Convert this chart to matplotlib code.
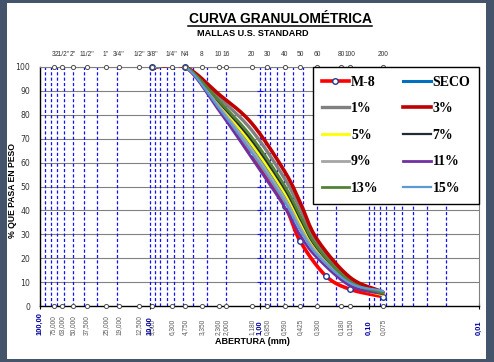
import numpy as np
import matplotlib
matplotlib.use("Agg")
import matplotlib.pyplot as plt
from matplotlib.patches import Rectangle
from matplotlib.lines import Line2D

# sieve series (top / bottom marks)
sieve_mm = [75, 63, 50, 37.5, 25, 19, 12.5, 9.5, 6.3, 4.75, 3.35, 2.36, 2.0,
            1.18, 0.85, 0.59, 0.425, 0.3, 0.18, 0.15, 0.075]
sieve_top = ['3', '21/2"', '2"', '11/2"', '1"', '3/4"', '1/2"', '3/8"', '1/4"', 'N4',
             '8', '10', '16', '20', '30', '40', '50', '60', '80', '100', '200']
sieve_bottom = ['75,000', '63,000', '50,000', '37,500', '25,000', '19,000', '12,500',
                '9,500', '6,300', '4,750', '3,350', '2,360', '2,000', '1,180', '0,850',
                '0,590', '0,425', '0,300', '0,180', '0,150', '0,075']
decades = [100, 10, 1, 0.1, 0.01]
decade_labels = ['100,00', '10,00', '1,00', '0,10', '0,01']

# gradation curves
m8_mm = [9.5, 4.75, 2.36, 1.18, 0.59, 0.425, 0.25, 0.15, 0.075]
m8_pass = [100, 100, 83.5, 64, 42, 27, 12.7, 7, 3.9]

mix_mm = [9.5, 4.75, 2.36, 1.18, 0.59, 0.425, 0.3, 0.15, 0.075]
seco = [100, 100, 84.3, 67.1, 46.6, 34.3, 23.0, 9.7, 5.5]
p01 = [100, 100, 87.4, 73.6, 53.3, 40.5, 26.5, 10.9, 5.6]
p03 = [100, 100, 88.7, 76.5, 56.3, 43.2, 28.0, 12.0, 5.8]
p05 = [100, 100, 84.7, 67.8, 47.4, 35.0, 23.4, 9.2, 4.6]
p07 = [100, 100, 85.4, 69.3, 48.9, 36.4, 24.2, 10.0, 5.2]
p09 = [100, 100, 83.7, 65.6, 45.1, 32.9, 22.2, 9.5, 5.8]
p11 = [100, 100, 82.0, 62.0, 41.4, 29.5, 20.3, 8.5, 5.0]
p13 = [100, 100, 86.0, 70.7, 50.3, 37.7, 24.9, 10.3, 5.4]
p15 = [100, 100, 83.0, 64.2, 43.6, 31.6, 21.5, 9.6, 6.3]

series = [
    ('SECO', seco, '#0070C0', 2.2),
    ('1%', p01, '#808080', 2.4),
    ('3%', p03, '#C00000', 2.6),
    ('5%', p05, '#FFFF00', 2.0),
    ('7%', p07, '#222A35', 1.6),
    ('9%', p09, '#A5A5A5', 2.0),
    ('11%', p11, '#7030A0', 2.0),
    ('13%', p13, '#548235', 2.0),
    ('15%', p15, '#5B9BD5', 1.6),
]


def smooth(d, p, n=30):
    # catmull-rom in (log d, %) like the excel smoothed line
    pts = np.column_stack([np.log10(d), p]).astype(float)
    P = np.vstack([2 * pts[0] - pts[1], pts, 2 * pts[-1] - pts[-2]])
    t = np.linspace(0, 1, n, endpoint=False)[:, None]
    out = []
    for i in range(1, len(P) - 2):
        p0, p1, p2, p3 = P[i - 1], P[i], P[i + 1], P[i + 2]
        seg = 0.5 * (2 * p1 + (-p0 + p2) * t + (2 * p0 - 5 * p1 + 4 * p2 - p3) * t ** 2
                     + (-p0 + 3 * p1 - 3 * p2 + p3) * t ** 3)
        out.append(seg)
    out.append(pts[-1][None, :])
    res = np.vstack(out)
    return 10 ** res[:, 0], res[:, 1]


W, H = 494, 362
fig = plt.figure(figsize=(W / 100, H / 100), dpi=100)
fig.patch.set_facecolor('#44546A')
fig.patches.append(Rectangle((7 / W, 3 / H), (486 - 7) / W, (359 - 3) / H,
                             transform=fig.transFigure, facecolor='white',
                             edgecolor='none', zorder=-1))

ax = fig.add_axes([40 / W, (H - 306) / H, 439 / W, 239 / H])
ax.set_xscale('log')
ax.set_xlim(100, 0.01)
ax.set_ylim(0, 100)

# grid
for yv in range(10, 101, 10):
    ax.axhline(yv, color='#808080', lw=0.8, zorder=1)
grid_x = [m * 10.0 ** e for e in range(-2, 2) for m in range(1, 10)]
for xv in grid_x:
    if 0.01 < xv < 100:
        ax.axvline(xv, color='#1010FF', lw=0.9, dashes=(2.5, 1.8), zorder=1)
ax.plot([1] * 9, range(10, 100, 10), ls='none', marker='_', ms=4, mew=0.8,
        color='#1010FF', zorder=1)

# M-8 first, so the others cover it
xs, ys = smooth(m8_mm, m8_pass)
ax.plot(xs, ys, color='#FF0000', lw=2.6, zorder=3, solid_capstyle='round')
ax.plot(m8_mm, m8_pass, ls='none', marker='o', ms=4, mfc='white', mec='#1F3A8F',
        mew=1.0, zorder=3, clip_on=False)

handles = {}
handles['M-8'] = Line2D([], [], color='#FF0000', lw=2.6, marker='o', ms=4,
                        mfc='white', mec='#1F3A8F', mew=1.0)
for name, vals, col, lw in series:
    xs, ys = smooth(mix_mm, vals)
    ax.plot(xs, ys, color=col, lw=lw, zorder=3, solid_capstyle='round')
    handles[name] = Line2D([], [], color=col, lw=lw)

# sieve marks at 100 and 0
for yv in (100, 0):
    ax.plot(sieve_mm, [yv] * len(sieve_mm), ls='none', marker='o', ms=3.0,
            mfc='white', mec='#505050', mew=0.7, zorder=5, clip_on=False)

# spines / ticks
for s in ('left', 'bottom'):
    ax.spines[s].set_color('black')
    ax.spines[s].set_linewidth(1)
for s in ('top', 'right'):
    ax.spines[s].set_color('#808080')
    ax.spines[s].set_linewidth(0.8)
ax.set_yticks(range(0, 101, 10))
ax.tick_params(axis='y', length=0, pad=7, labelsize=5.6, labelcolor='#333333')
ax.set_xticks(decades)
ax.set_xticklabels([])
ax.tick_params(axis='x', which='major', direction='inout', length=5, width=0.8)
ax.tick_params(axis='x', which='minor', length=0)

# labels under and over the axis
for d, lab in zip(sieve_mm, sieve_bottom):
    ax.text(d, -0.121, lab, transform=ax.get_xaxis_transform(), rotation=90,
            ha='center', va='bottom', fontsize=4.7, color='#595959',
            family='Liberation Sans')
for d, lab in zip(decades, decade_labels):
    ax.text(d, -0.121, lab, transform=ax.get_xaxis_transform(), rotation=90,
            ha='center', va='bottom', fontsize=5.4, color='#0000A0',
            fontweight='bold', family='Liberation Sans')
for d, lab in zip(sieve_mm, sieve_top):
    ax.text(d, 1.052, lab, transform=ax.get_xaxis_transform(), ha='center',
            va='center', fontsize=4.8, color='#333333', family='Liberation Sans')

order = ['M-8', '1%', '5%', '9%', '13%', 'SECO', '3%', '7%', '11%', '15%']
leg = ax.legend([handles[k] for k in order], order, ncol=2, loc='upper right',
                bbox_to_anchor=(1, 1), borderaxespad=0, fancybox=False,
                framealpha=1, edgecolor='black',
                prop={'family': 'Liberation Serif', 'weight': 'bold', 'size': 10},
                handlelength=1.95, handletextpad=0.15, columnspacing=1.8,
                labelspacing=0.98, borderpad=0.62)
leg.get_frame().set_linewidth(1)
leg.set_zorder(10)

# titles
fig.text(280 / W, 1 - 18.7 / H, 'CURVA GRANULOMÉTRICA', ha='center', va='center',
         fontsize=9.9, fontweight='bold', family='Liberation Sans')
fig.add_artist(Line2D([188 / W, 372 / W], [1 - 26 / H] * 2, color='black', lw=1.1))
fig.text(253 / W, 1 - 33.3 / H, 'MALLAS U.S. STANDARD', ha='center', va='center',
         fontsize=6.6, fontweight='bold', family='Liberation Sans')
fig.text(13 / W, 1 - 190 / H, '% QUE PASA EN PESO', rotation=90, ha='center',
         va='center', fontsize=6.2, fontweight='bold', family='Liberation Sans')
fig.text(252 / W, 1 - 342 / H, 'ABERTURA (mm)', ha='center', va='center',
         fontsize=6.5, fontweight='bold', family='Liberation Sans')

fig.savefig('out.png', dpi=100, facecolor=fig.get_facecolor())
